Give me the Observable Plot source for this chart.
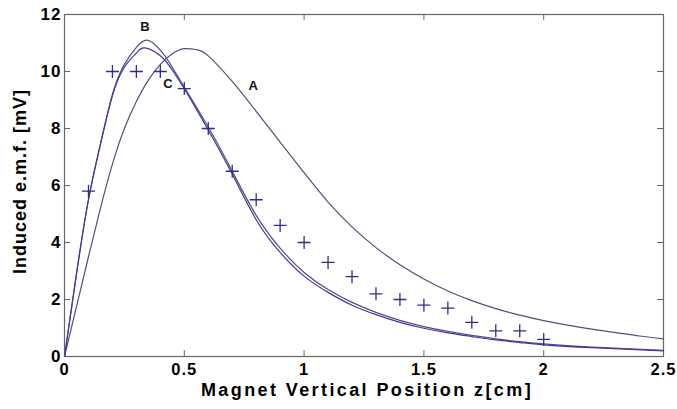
<!DOCTYPE html>
<html>
<head>
<meta charset="utf-8">
<script src="https://cdn.jsdelivr.net/npm/d3@7"></script>
<script src="https://cdn.jsdelivr.net/npm/@observablehq/plot@0.6"></script>
<style>
  html, body { margin: 0; padding: 0; background: #fff; }
  #chart svg { display: block; background: #fff; }
  #chart svg text { letter-spacing: 1px; }
</style>
</head>
<body>
<div id="chart"></div>
<script>
// Measured induced e.m.f. (crosses)
const zMeasured = [0.1, 0.2, 0.3, 0.4, 0.5, 0.6, 0.7, 0.8, 0.9, 1.0, 1.1, 1.2, 1.3, 1.4, 1.5, 1.6, 1.7, 1.8, 1.9, 2.0];
const emfMeasured = [5.8, 10, 10, 10, 9.4, 8.0, 6.5, 5.5, 4.6, 4.0, 3.3, 2.8, 2.2, 2.0, 1.8, 1.7, 1.2, 0.9, 0.9, 0.6];

// Model curve A
const zA = [0, 0.05, 0.1, 0.15, 0.2, 0.25, 0.3, 0.35, 0.4, 0.45, 0.5, 0.55, 0.6, 0.7, 0.8, 0.9, 1.0, 1.1, 1.2, 1.3, 1.4, 1.5, 1.6, 1.7, 1.8, 1.9, 2.0, 2.1, 2.2, 2.3, 2.4, 2.5];
const emfA = [0, 1.75, 3.5, 5.2, 6.75, 8.0, 8.95, 9.7, 10.25, 10.62, 10.8, 10.77, 10.55, 9.65, 8.6, 7.52, 6.45, 5.42, 4.55, 3.82, 3.22, 2.72, 2.3, 1.96, 1.68, 1.45, 1.26, 1.1, 0.96, 0.84, 0.72, 0.62];

// Model curve B
const zB = [0, 0.05, 0.1, 0.15, 0.2, 0.25, 0.3, 0.345, 0.4, 0.45, 0.5, 0.6, 0.7, 0.8, 0.9, 1.0, 1.1, 1.2, 1.3, 1.4, 1.5, 1.6, 1.7, 1.8, 1.9, 2.0, 2.2, 2.5];
const emfB = [0, 2.9, 5.5, 7.45, 9.2, 10.25, 10.85, 11.1, 10.75, 10.15, 9.45, 8.05, 6.5, 4.95, 3.8, 2.95, 2.35, 1.9, 1.55, 1.27, 1.05, 0.88, 0.74, 0.62, 0.52, 0.44, 0.33, 0.22];

// Model curve C
const zC = [0, 0.05, 0.1, 0.15, 0.2, 0.25, 0.3, 0.335, 0.4, 0.45, 0.5, 0.6, 0.7, 0.8, 0.9, 1.0, 1.1, 1.2, 1.3, 1.4, 1.5, 1.6, 1.7, 1.8, 1.9, 2.0, 2.2, 2.5];
const emfC = [0, 2.9, 5.5, 7.45, 9.15, 10.15, 10.65, 10.83, 10.55, 10.05, 9.4, 7.95, 6.4, 4.8, 3.65, 2.82, 2.25, 1.8, 1.47, 1.2, 0.99, 0.83, 0.7, 0.58, 0.49, 0.41, 0.31, 0.2];

// Curve names and where they are written
const curveNames = ["A", "B", "C"];
const curveNameZ = [0.79, 0.338, 0.434];
const curveNameEmf = [9.5, 11.55, 9.55];

// Axes
const xTicks = [0, 0.5, 1, 1.5, 2, 2.5];
const yTicks = [0, 2, 4, 6, 8, 10, 12];
const xDomain = [0, 2.5];
const yDomain = [0, 12];
const xTitle = "Magnet Vertical Position z[cm]";
const yTitle = "Induced e.m.f. [mV]";

const toRows = (zs, vs) => zs.map((z, i) => ({z, v: vs[i]}));
const measured = toRows(zMeasured, emfMeasured);
const names = curveNames.map((n, i) => ({name: n, z: curveNameZ[i], v: curveNameEmf[i]}));

// A thin "+" marker drawn with strokes
const thinPlus = {
  draw(context, size) {
    const r = Math.sqrt(size / Math.PI);
    context.moveTo(-r, 0); context.lineTo(r, 0);
    context.moveTo(0, -r); context.lineTo(0, r);
  }
};

const font = "'Liberation Sans', Arial, Helvetica, sans-serif";
const frameColor = "#666";
const xTickLen = (xDomain[1] - xDomain[0]) * 0.01;
const yTickLen = (yDomain[1] - yDomain[0]) * 0.017;

const chart = Plot.plot({
  width: 677,
  height: 409,
  marginLeft: 64,
  marginRight: 14,
  marginTop: 14,
  marginBottom: 53,
  style: {fontFamily: font, fontWeight: "bold", color: "#000", background: "#fff"},
  x: {domain: xDomain},
  y: {domain: yDomain},
  marks: [
    Plot.frame({stroke: frameColor, strokeWidth: 1.2}),
    // inward tick marks on all four sides
    Plot.ruleX(xTicks.slice(1, -1), {x: d => d, y1: yDomain[0], y2: yDomain[0] + yTickLen, stroke: frameColor}),
    Plot.ruleX(xTicks.slice(1, -1), {x: d => d, y1: yDomain[1], y2: yDomain[1] - yTickLen, stroke: frameColor}),
    Plot.ruleY(yTicks.slice(1, -1), {y: d => d, x1: xDomain[0], x2: xDomain[0] + xTickLen, stroke: frameColor}),
    Plot.ruleY(yTicks.slice(1, -1), {y: d => d, x1: xDomain[1], x2: xDomain[1] - xTickLen, stroke: frameColor}),
    Plot.axisX({ticks: xTicks, tickSize: 0, tickPadding: 7, fontSize: 16.5, tickFormat: d => String(d), label: null}),
    Plot.axisY({ticks: yTicks, tickSize: 0, tickPadding: 3, fontSize: 17, tickFormat: d => String(d), label: null}),
    Plot.line(toRows(zA, emfA), {x: "z", y: "v", curve: "natural", stroke: "#50507c", strokeWidth: 1.2}),
    Plot.line(toRows(zB, emfB), {x: "z", y: "v", curve: "natural", stroke: "#50507c", strokeWidth: 1.2}),
    Plot.line(toRows(zC, emfC), {x: "z", y: "v", curve: "natural", stroke: "#3a3aa8", strokeWidth: 1.2}),
    Plot.dot(measured, {x: "z", y: "v", symbol: thinPlus, r: 6.5, stroke: "#2e2e88", fill: "none", strokeWidth: 1.3}),
    Plot.text(names, {x: "z", y: "v", text: "name", fontSize: 13, fontWeight: "bold", fill: "#111"}),
    Plot.text([xTitle], {frameAnchor: "bottom", textAnchor: "middle", lineAnchor: "middle", dy: 34, dx: 3, fontSize: 18, fontWeight: "bold", fill: "#000"}),
    Plot.text([yTitle], {frameAnchor: "left", textAnchor: "middle", lineAnchor: "middle", rotate: -90, dx: -44, dy: -4, fontSize: 18, fontWeight: "bold", fill: "#000"})
  ]
});

// wider spacing for the x-axis title
d3.select(chart).selectAll("text")
  .filter(function() { return this.textContent === xTitle; })
  .style("letter-spacing", "2.4px");

document.getElementById("chart").appendChild(chart);
</script>
</body>
</html>
